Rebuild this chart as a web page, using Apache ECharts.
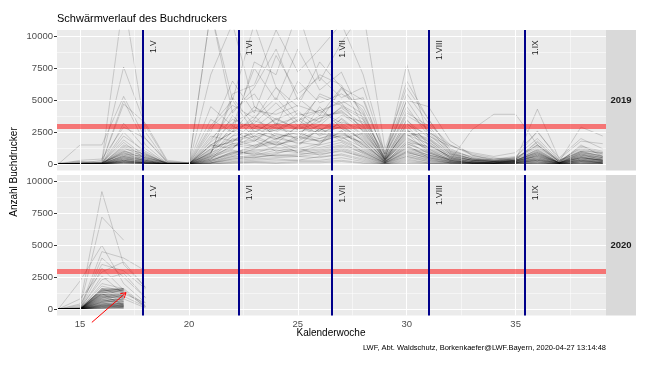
<!DOCTYPE html>
<html><head><meta charset="utf-8">
<script src="https://cdn.jsdelivr.net/npm/echarts@6/dist/echarts.min.js"></script>
<style>html,body{margin:0;padding:0;background:#fff}#c{width:646px;height:365px}</style>
</head><body><div id="c"></div><script>
// ---------------- data ----------------
const titleText = 'Schwärmverlauf des Buchdruckers';
const yTitle = 'Anzahl Buchdrucker';
const xTitle = 'Kalenderwoche';
const caption = 'LWF, Abt. Waldschutz, Borkenkaefer@LWF.Bayern, 2020-04-27 13:14:48';
const panels = ['2019', '2020'];
const yTicks = [0, 2500, 5000, 7500, 10000];
const yMinor = [1250, 3750, 6250, 8750];
const xTicks = [15, 20, 25, 30, 35];
const xMinor = [17.5, 22.5, 27.5, 32.5, 37.5];
const threshold = 3000;
const monthStarts = [17.86, 22.29, 26.57, 31.0, 35.43];
const monthLabels = ['1.V', '1.VI', '1.VII', '1.VIII', '1.IX'];
const arrowFrom = [15.54, -1040];
const arrowTo = [17.11, 1290];

const weeks2019 = [14,15,16,17,18,19,20,21,22,23,24,25,26,27,28,29,30,31,32,33,34,35,36,37,38,39];
const lines2019 = [
 [0,100,200,13000,2500,100,50,12000,4000,6000,9000,5000,7000,6200,3000,500,5000,2500,800,300,200,400,1500,200,800,300],
 [0,50,300,7600,3000,200,100,3000,5000,11000,6000,4500,8000,6000,4000,300,7800,2000,500,200,100,300,900,100,600,200],
 [0,1500,1500,5300,2000,100,0,2000,3500,2800,4200,5200,3800,6000,5000,700,4000,3000,1000,600,400,500,2600,300,1200,800],
 [100,200,100,5000,1500,50,50,1500,2500,4500,3500,2800,5500,4800,2500,400,3500,1500,600,300,200,200,1000,100,1500,600],
 [0,0,100,4700,3200,300,100,800,5200,3000,2600,4000,3300,5900,4200,300,2500,1800,400,200,100,300,1800,200,2900,2200],
 [0,100,0,3200,1200,0,0,600,2200,3800,2000,2500,3000,4500,3500,200,3000,1200,300,2700,3900,3900,1500,300,900,500],
 [0,300,400,2900,2000,200,50,1200,1800,2200,3200,1800,2600,3500,2200,200,2200,2500,1500,800,500,300,4300,400,1800,1600],
 [0,0,50,2500,800,50,0,400,1500,1200,2500,3500,2200,3000,1800,100,1800,800,200,100,50,100,700,50,300,100],
 [0,50,50,2200,1000,100,50,900,3000,2000,1500,2000,4500,2800,1500,300,2800,1000,300,150,100,200,1200,100,700,400],
 [0,0,100,1900,600,0,0,300,800,1500,1800,1200,1600,2600,1200,100,1500,500,150,100,50,100,500,50,400,200],
 [0,200,100,1700,400,50,0,500,1200,2800,2200,1600,2000,2400,1600,200,1200,700,400,200,100,200,800,100,500,300],
 [0,0,0,1500,900,0,0,200,1000,800,1400,2200,1800,2200,900,100,1000,400,100,50,50,100,300,0,200,100],
 [0,100,50,1300,500,100,50,700,1600,1900,1000,1400,2800,2000,2400,400,2000,1300,500,300,200,300,600,100,900,700],
 [0,0,50,1100,300,0,0,100,500,700,900,1100,1300,1700,800,50,800,300,100,50,0,50,200,0,150,50],
 [0,50,0,1000,700,50,0,400,2000,1400,1700,900,1500,1900,1100,200,1300,900,300,100,100,200,400,50,600,300],
 [0,0,0,900,200,0,0,50,400,600,700,800,900,1200,600,50,600,200,50,0,0,50,150,0,100,50],
 [0,0,100,800,400,50,0,300,900,1100,1300,1000,1200,1500,1000,100,900,500,200,100,50,100,300,50,300,100],
 [0,0,0,700,300,0,0,100,600,500,800,1300,700,1100,500,0,500,200,100,50,0,0,100,0,100,0],
 [0,50,50,600,200,0,0,200,700,900,600,700,1000,1300,700,100,700,400,100,50,50,100,200,0,200,100],
 [0,0,0,500,100,0,0,100,300,400,500,600,500,800,400,0,400,100,50,0,0,0,100,0,50,0],
 [0,0,0,400,150,0,0,50,200,300,400,300,600,700,300,0,300,100,0,0,0,0,50,0,50,0],
 [0,0,0,300,100,0,0,0,150,200,250,300,300,500,200,0,200,50,0,0,0,0,50,0,0,0],
 [0,0,0,200,50,0,0,0,100,150,100,200,200,300,100,0,100,50,0,0,0,0,0,0,0,0],
 [0,0,0,100,50,0,0,0,50,100,50,100,100,200,50,0,50,0,0,0,0,0,0,0,0,0],
 [0,0,0,600,300,0,50,2500,6500,4000,8500,5500,6800,5200,6000,800,6500,3500,1200,500,300,200,800,100,500,300],
 [0,0,50,1000,500,100,100,4500,3000,7500,5000,9000,5800,7200,3500,800,5500,3200,1500,700,400,600,2000,300,1000,900],
 [0,0,0,400,200,0,0,1800,4200,5500,3000,6500,4800,5500,4500,1000,4500,2200,1400,900,600,900,2500,500,2000,1200],
 [0,50,100,800,600,50,100,3500,2500,3500,6000,3800,4200,4800,5200,600,3800,2800,900,400,300,400,1300,200,1400,1000],
 [0,0,0,300,100,0,0,1200,2800,3200,4800,3000,3600,4200,2800,300,3200,1700,700,300,200,300,900,100,800,500],
 [0,0,0,500,200,0,0,2200,1800,2500,3500,4200,2600,3800,3300,500,2600,2000,800,400,250,400,1100,150,1000,600],
 [0,0,50,200,100,0,0,900,3800,2100,2700,3400,4200,3200,2100,200,2100,1100,400,200,150,200,700,100,600,400],
 [0,0,0,700,400,0,0,1500,1200,3000,2400,2000,3100,2800,1900,400,1700,1400,600,300,200,200,600,100,700,500],
 [0,0,0,1200,800,0,0,7000,11000,4500,3200,2700,3800,4000,2600,300,2400,900,300,150,100,200,500,50,400,300],
 [0,0,0,0,0,0,0,600,1400,1800,2900,2400,2000,2600,1500,200,1400,700,300,100,100,150,400,50,350,200],
 [0,0,0,150,100,0,0,400,900,1300,1600,3000,2400,2100,1300,150,1100,600,200,100,50,100,300,50,250,150],
 [0,0,0,100,50,0,0,300,800,1000,1200,1500,2800,1800,1000,100,900,500,150,50,50,100,200,0,200,100],
 [0,0,0,250,100,0,0,12000,5000,2500,2000,2600,1700,2300,1700,200,1600,1000,400,100,100,150,400,50,300,200],
 [0,0,0,100,0,0,0,200,600,1200,2000,1700,1500,3600,2300,300,2300,1600,500,200,150,250,600,50,500,300],
 [0,0,0,0,50,0,0,500,1100,700,1100,900,1100,1400,900,100,1000,600,200,100,50,100,300,0,200,100],
 [0,0,0,50,0,0,0,100,400,500,700,600,800,1000,600,50,600,300,100,50,0,50,100,0,100,50],
 [0,0,0,300,100,0,0,1500,2500,8000,7000,12000,6500,9500,12000,1200,6000,3500,1000,400,200,300,800,100,500,300],
 [0,0,0,150,100,0,0,800,5500,6200,10500,7200,9000,11000,7000,800,5000,4500,1800,700,300,500,1500,200,1000,600],
 [0,0,0,200,100,0,0,1000,2200,2600,1900,2900,2300,3300,2700,400,2600,1900,700,300,200,300,900,100,700,400],
 [0,0,50,600,300,0,0,1400,1700,3400,2800,2300,3600,4100,2900,500,3100,2300,900,400,300,500,1400,200,1100,800],
 [0,0,0,400,200,0,0,700,2600,1800,3100,3700,2500,2900,2000,300,1900,1200,500,200,100,200,700,100,500,300],
 [0,100,100,900,500,50,50,1100,1900,2400,3600,2700,3300,4400,3100,400,2700,1500,600,300,200,300,1000,100,800,500],
 [0,0,0,300,100,0,0,600,1300,2200,1500,1900,2700,3100,1800,200,1600,900,300,100,100,150,500,50,400,200],
 [0,0,0,150,50,0,0,900,1600,1400,2300,2100,1800,2500,1400,150,1300,700,250,100,50,100,350,50,300,150],
 [0,50,0,1400,700,100,0,1700,3200,4200,3900,4600,4000,5000,3900,600,4200,2600,1100,500,300,400,1700,200,1300,900],
 [0,0,0,500,300,0,0,2800,4600,3600,5200,3300,5300,4600,3700,500,3400,2100,800,400,200,300,1100,100,900,600]
];

const weeks2020 = [14,15,16,17,18];
const lines2020 = [
 [0,400,9200,3500,1700],
 [0,200,7200,5400,null],
 [0,2200,5000,2000,500],
 [0,100,4500,4000,3000],
 [0,0,4000,2500,900],
 [0,300,3500,3000,1600],
 [0,0,3200,1500,200],
 [0,800,2900,3700,1700],
 [0,0,2600,1200,500],
 [0,100,2300,2800,900],
 [0,0,2000,1600,300],
 [0,50,1800,1400,200],
 [0,0,1600,1000,200],
 [0,0,1500,1600,null],
 [0,50,1400,800,100],
 [0,0,1300,1200,null],
 [0,0,1200,600,null],
 [0,0,1100,1500,null],
 [0,0,1000,900,null],
 [0,0,900,1300,null],
 [0,0,800,700,null],
 [0,0,750,1100,null],
 [0,0,700,500,null],
 [0,0,600,900,null],
 [0,0,550,400,null],
 [0,0,500,800,null],
 [0,0,450,300,null],
 [0,0,400,600,null],
 [0,0,350,250,null],
 [0,0,300,500,null],
 [0,0,250,200,null],
 [0,0,200,400,null],
 [0,0,150,150,null],
 [0,0,100,300,null],
 [0,0,50,100,null],
 [0,0,100,50,null],
 [0,0,200,100,null],
 [0,0,300,200,null],
 [0,0,500,200,null],
 [0,0,800,300,null],
 [0,0,1000,400,null],
 [0,0,1200,300,null],
 [0,0,1600,1600,null],
 [0,0,1400,1600,null],
 [0,100,1500,1300,null],
 [0,0,1300,1500,null],
 [0,0,1100,1100,null],
 [0,0,900,1000,null],
 [0,0,700,800,null],
 [0,0,600,600,null],
 [0,0,400,400,null],
 [0,0,300,300,null],
 [0,0,200,200,null],
 [0,0,100,100,null],
 [0,0,1500,1400,null],
 [0,0,1200,1000,null],
 [0,0,1600,1500,null],
 [0,0,1450,1550,null],
 [0,0,1350,1450,null],
 [0,0,1250,1350,null],
 [0,0,1150,1250,null],
 [0,0,1050,1150,null],
 [0,0,950,1050,null],
 [0,0,850,950,null],
 [0,0,650,750,null],
 [0,0,550,650,null],
 [0,0,350,450,null],
 [0,0,250,350,null],
 [0,0,150,250,null],
 [0,0,50,150,null]
];

// ---------------- chart ----------------
const FONT = '"Liberation Sans", Arial, sans-serif';
const PL = 57, PW = 549, PH = 140.5, TOPS = [30, 175];
const XMIN = 13.94, XMAX = 39.15, YMIN = -500, YMAX = 10500;

const chart = echarts.init(document.getElementById('c'), null, {renderer: 'canvas'});

const grids = TOPS.map(t => ({left: PL, top: t, width: PW, height: PH, show: true,
  backgroundColor: '#EBEBEB', borderWidth: 0}));

const xAxes = TOPS.map((t, g) => ({
  type: 'value', gridIndex: g, min: XMIN, max: XMAX,
  axisLine: {show: false}, splitLine: {show: false},
  axisTick: {show: g === 1, customValues: xTicks, length: 3, lineStyle: {color: '#333333', width: 1}},
  axisLabel: {show: g === 1, customValues: xTicks, color: '#4D4D4D', fontSize: 9.5, fontFamily: FONT, margin: 4,
    formatter: v => String(v)}
}));
const yAxes = TOPS.map((t, g) => ({
  type: 'value', gridIndex: g, min: YMIN, max: YMAX,
  axisLine: {show: false}, splitLine: {show: false},
  axisTick: {show: true, customValues: yTicks, length: 3, lineStyle: {color: '#333333', width: 1}},
  axisLabel: {customValues: yTicks, color: '#4D4D4D', fontSize: 9.5, fontFamily: FONT, margin: 4,
    formatter: v => String(v)}
}));

const series = [];
TOPS.forEach((t, g) => {
  const gl = [];
  yTicks.forEach(v => gl.push({yAxis: v, lineStyle: {width: 1.1}}));
  yMinor.forEach(v => gl.push({yAxis: v, lineStyle: {width: 0.5}}));
  xTicks.forEach(v => gl.push({xAxis: v, lineStyle: {width: 1.1}}));
  xMinor.forEach(v => gl.push({xAxis: v, lineStyle: {width: 0.5}}));
  series.push({type: 'line', xAxisIndex: g, yAxisIndex: g, data: [], z: 1, silent: true,
    markLine: {silent: true, symbol: 'none', animation: false, label: {show: false},
      lineStyle: {color: '#FFFFFF', type: 'solid'}, emphasis: {disabled: true}, data: gl}});
});

function addLines(weeks, lines, g) {
  lines.forEach(vals => {
    series.push({type: 'line', xAxisIndex: g, yAxisIndex: g, z: 2, silent: true,
      symbol: 'none', animation: false, connectNulls: false,
      lineStyle: {color: 'rgba(0,0,0,0.2)', width: 0.8},
      emphasis: {disabled: true},
      data: weeks.map((w, i) => [w, vals[i]])});
  });
}
addLines(weeks2019, lines2019, 0);
addLines(weeks2020, lines2020, 1);

TOPS.forEach((t, g) => {
  const ml = [{yAxis: threshold, lineStyle: {color: 'rgba(255,0,0,0.5)', width: 5}}];
  monthStarts.forEach(m => ml.push({xAxis: m, lineStyle: {color: '#00008B', width: 2}}));
  series.push({type: 'line', xAxisIndex: g, yAxisIndex: g, data: [], z: 3, silent: true,
    markLine: {silent: true, symbol: 'none', animation: false, label: {show: false},
      lineStyle: {type: 'solid'}, emphasis: {disabled: true}, data: ml}});
});

chart.setOption({
  animation: false,
  grid: grids, xAxis: xAxes, yAxis: yAxes, series: series
});

// ---------- annotations ----------
const gr = [];
gr.push({type: 'text', left: 57, top: 13, style: {text: titleText, fontSize: 11, fill: '#000', fontFamily: FONT}});
gr.push({type: 'text', x: 14, y: 172, rotation: Math.PI / 2,
  style: {text: yTitle, fontSize: 10, fill: '#000', fontFamily: FONT, align: 'center', verticalAlign: 'middle'}});
gr.push({type: 'text', x: 331, y: 333,
  style: {text: xTitle, fontSize: 10, fill: '#000', fontFamily: FONT, align: 'center', verticalAlign: 'middle'}});
gr.push({type: 'text', x: 606, y: 348,
  style: {text: caption, fontSize: 7.5, fill: '#000', fontFamily: FONT, align: 'right', verticalAlign: 'middle'}});
TOPS.forEach((t, g) => {
  gr.push({type: 'rect', shape: {x: PL + PW, y: t, width: 30, height: PH}, style: {fill: '#D9D9D9'}});
  gr.push({type: 'text', x: PL + PW + 15, y: t + PH / 2,
    style: {text: panels[g], fontSize: 9.5, fontWeight: 'bold', fill: '#1A1A1A', fontFamily: FONT,
      align: 'center', verticalAlign: 'middle'}});
  monthStarts.forEach((m, i) => {
    const p = chart.convertToPixel({gridIndex: g}, [m, 9700]);
    gr.push({type: 'text', x: p[0] + 11, y: p[1], rotation: Math.PI / 2, z: 10,
      style: {text: monthLabels[i], fontSize: 8.5, fill: '#1A1A1A', fontFamily: FONT,
        align: 'right', verticalAlign: 'middle'}});
  });
});
const a0 = chart.convertToPixel({gridIndex: 1}, arrowFrom);
const a1 = chart.convertToPixel({gridIndex: 1}, arrowTo);
const ang = Math.atan2(a1[1] - a0[1], a1[0] - a0[0]);
const hl = 6, ha = Math.PI / 6;
gr.push({type: 'line', z: 10, shape: {x1: a0[0], y1: a0[1], x2: a1[0], y2: a1[1]}, style: {stroke: '#FF0000', lineWidth: 1}});
gr.push({type: 'polyline', z: 10, shape: {points: [
  [a1[0] - hl * Math.cos(ang - ha), a1[1] - hl * Math.sin(ang - ha)],
  [a1[0], a1[1]],
  [a1[0] - hl * Math.cos(ang + ha), a1[1] - hl * Math.sin(ang + ha)]]},
  style: {stroke: '#FF0000', lineWidth: 1, fill: null}});
chart.setOption({graphic: gr});
</script></body></html>
